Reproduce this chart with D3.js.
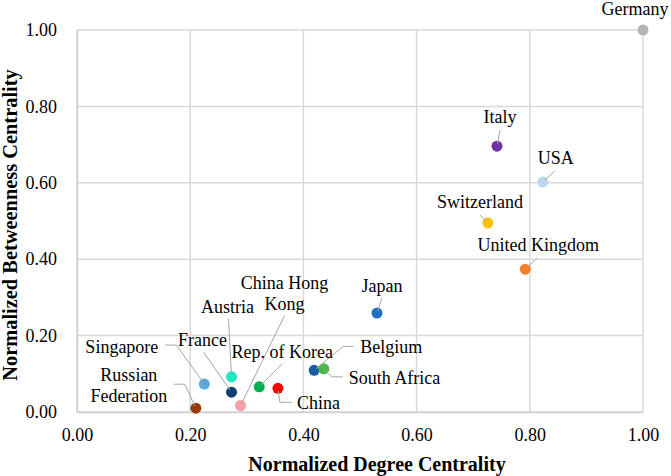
<!DOCTYPE html>
<html>
<head>
<meta charset="utf-8">
<script src="https://cdn.jsdelivr.net/npm/d3@7"></script>
<style>
  body { margin: 0; background: #fff; }
</style>
</head>
<body>
<div id="chart"></div>
<script>
// data
const countries = ["Germany", "Italy", "USA", "Switzerland", "United Kingdom", "Japan",
  "Belgium", "South Africa", "China", "Rep. of Korea", "China Hong Kong",
  "Austria", "France", "Singapore", "Russian Federation"];
const degree = [1.00, 0.742, 0.823, 0.726, 0.792, 0.530, 0.419, 0.436, 0.355, 0.322, 0.289, 0.273, 0.273, 0.225, 0.210];
const betweenness = [1.00, 0.696, 0.602, 0.495, 0.374, 0.259, 0.109, 0.113, 0.062, 0.066, 0.017, 0.092, 0.052, 0.073, 0.010];
const tickValues = [0, 0.2, 0.4, 0.6, 0.8, 1.0];

const colors = ["#b4b4b4", "#7030a0", "#bdd7ee", "#ffc000", "#f47f2a", "#1f6fc5",
  "#1b5ca6", "#4cb848", "#ff0000", "#00b050", "#f4a0a6",
  "#1de9c0", "#0f3e72", "#5aa7dd", "#963c0c"];

const FONT = "Liberation Serif";

// label placement, offsets from the marker (px)
// t = offset of the first text line, lead = leader vertices from label towards marker
const labelLayout = {
  "Germany":            { anchor: "middle", t: [-8, -21], lead: [] },
  "Italy":              { anchor: "middle", t: [3, -29], lead: [[3, -16]] },
  "USA":                { anchor: "middle", t: [13, -24], lead: [[12, -11]] },
  "Switzerland":        { anchor: "middle", t: [-8, -21], lead: [[-8, -8]] },
  "United Kingdom":     { anchor: "middle", t: [13, -24], lead: [[12, -11]] },
  "Japan":              { anchor: "middle", t: [5, -27], lead: [[5, -15]] },
  "Belgium":            { anchor: "start", t: [46, -23], lead: [[39, -24], [29, -24]] },
  "South Africa":       { anchor: "start", t: [25, 9], lead: [[19, 8], [8, 8]] },
  "China":              { anchor: "start", t: [19, 15], lead: [[14, 14], [2, 14]] },
  "Rep. of Korea":      { anchor: "middle", t: [23, -35], lead: [[23, -23]] },
  "China Hong Kong":    { anchor: "middle", t: [44, -123], lines: ["China Hong", "Kong"], lead: [[44, -90]] },
  "Austria":            { anchor: "middle", t: [-4, -70], lead: [[-3, -58]] },
  "France":             { anchor: "middle", t: [-29, -52], lead: [[-28, -40]] },
  "Singapore":          { anchor: "end", t: [-46, -37], lead: [[-39, -39], [-28, -39]] },
  "Russian Federation": { anchor: "middle", t: [-67, -33], lines: ["Russian", "Federation"], lead: [[-22, -24], [-11, -24]] }
};

const W = 671, H = 476;
const margin = { top: 30, right: 28, bottom: 64, left: 77 };
const width = W - margin.left - margin.right,
  height = H - margin.top - margin.bottom;

const svg = d3.select("#chart")
  .append("svg")
  .attr("width", W)
  .attr("height", H)
  .style("font-family", FONT);

const g = svg.append("g")
  .attr("transform", `translate(${margin.left},${margin.top})`);

const x = d3.scaleLinear().domain([0, 1]).range([0, width]);
const y = d3.scaleLinear().domain([0, 1]).range([height, 0]);

// grid
g.selectAll(".vgrid")
  .data(tickValues)
  .join("line")
  .attr("x1", d => x(d)).attr("x2", d => x(d))
  .attr("y1", 0).attr("y2", height)
  .attr("stroke", "#d9d9d9")
  .attr("stroke-width", 1.5);

g.selectAll(".hgrid")
  .data(tickValues)
  .join("line")
  .attr("x1", 0).attr("x2", width)
  .attr("y1", d => y(d)).attr("y2", d => y(d))
  .attr("stroke", "#d9d9d9")
  .attr("stroke-width", 1.5);

// axes
const xAxis = g.append("g")
  .attr("transform", `translate(0,${height})`)
  .call(d3.axisBottom(x).tickValues(tickValues).tickFormat(d3.format(".2f")).tickSize(0).tickPadding(16));
xAxis.select(".domain").attr("stroke", "#d0d0d0").attr("stroke-width", 1.5);
xAxis.selectAll("text").attr("font-size", 18).attr("fill", "#000").style("font-family", FONT);

const yAxis = g.append("g")
  .call(d3.axisLeft(y).tickValues(tickValues).tickFormat(d3.format(".2f")).tickSize(0).tickPadding(20));
yAxis.select(".domain").attr("stroke", "#d0d0d0").attr("stroke-width", 1.5);
yAxis.selectAll("text").attr("font-size", 18).attr("fill", "#000").style("font-family", FONT);

// axis titles
svg.append("text")
  .attr("x", 377)
  .attr("y", 471)
  .attr("text-anchor", "middle")
  .attr("font-size", 20)
  .attr("font-weight", "bold")
  .style("font-family", FONT)
  .text("Normalized Degree Centrality");

svg.append("text")
  .attr("transform", "translate(17,225) rotate(-90)")
  .attr("text-anchor", "middle")
  .attr("font-size", 20.4)
  .attr("font-weight", "bold")
  .style("font-family", FONT)
  .text("Normalized Betweenness Centrality");

const points = countries.map((c, i) => ({
  name: c, dx: degree[i], by: betweenness[i], color: colors[i], layout: labelLayout[c]
}));

// markers
g.selectAll(".dot")
  .data(points)
  .join("circle")
  .attr("cx", d => x(d.dx))
  .attr("cy", d => y(d.by))
  .attr("r", 5.5)
  .attr("fill", d => d.color);

// leader lines, ending just inside the marker
g.selectAll(".leader")
  .data(points.filter(d => d.layout.lead.length))
  .join("polyline")
  .attr("fill", "none")
  .attr("stroke", "#a6a6a6")
  .attr("stroke-width", 1)
  .attr("points", d => {
    const px = x(d.dx), py = y(d.by);
    const pts = d.layout.lead.map(p => [px + p[0], py + p[1]]);
    const last = d.layout.lead[d.layout.lead.length - 1];
    const len = Math.hypot(last[0], last[1]);
    pts.push([px + last[0] / len * 2.5, py + last[1] / len * 2.5]);
    return pts.map(p => p.join(",")).join(" ");
  });

// labels
const labels = g.selectAll(".label")
  .data(points)
  .join("text")
  .attr("font-size", 18)
  .attr("fill", "#000")
  .style("font-family", FONT)
  .attr("text-anchor", d => d.layout.anchor)
  .attr("dominant-baseline", "central")
  .attr("transform", d => `translate(${x(d.dx) + d.layout.t[0]},${y(d.by) + d.layout.t[1]})`);

labels.selectAll("tspan")
  .data(d => (d.layout.lines || [d.name]))
  .join("tspan")
  .attr("x", 0)
  .attr("dy", (d, i) => i === 0 ? 0 : 21)
  .text(d => d);
</script>
</body>
</html>
